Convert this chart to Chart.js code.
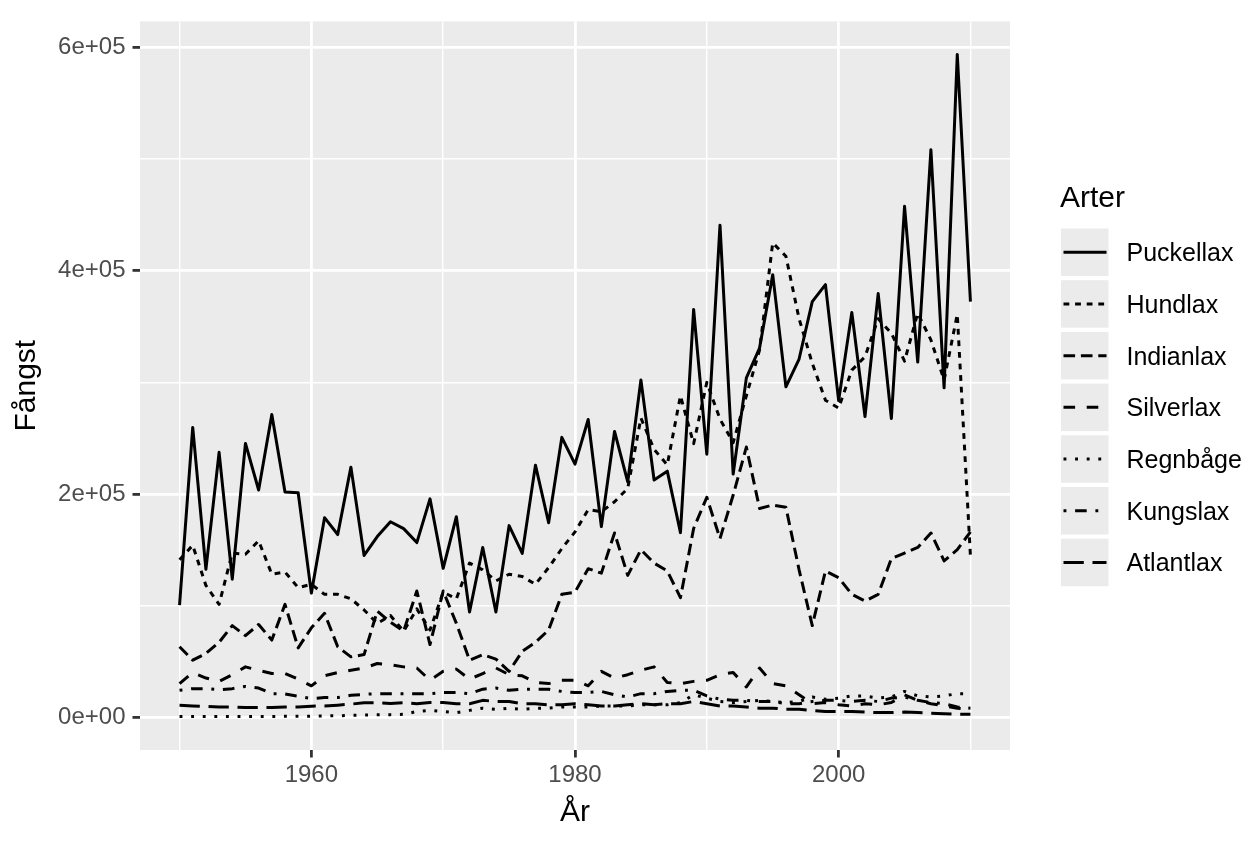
<!DOCTYPE html>
<html><head><meta charset="utf-8">
<script src="https://cdn.jsdelivr.net/npm/chart.js@4.4.0/dist/chart.umd.min.js"></script>
<style>html,body{margin:0;padding:0;background:#fff;}canvas{display:block}</style>
</head><body>
<canvas id="c" width="1248" height="848"></canvas>
<script>
const years = [1950,1951,1952,1953,1954,1955,1956,1957,1958,1959,
1960,1961,1962,1963,1964,1965,1966,1967,1968,1969,
1970,1971,1972,1973,1974,1975,1976,1977,1978,1979,
1980,1981,1982,1983,1984,1985,1986,1987,1988,1989,
1990,1991,1992,1993,1994,1995,1996,1997,1998,1999,
2000,2001,2002,2003,2004,2005,2006,2007,2008,2009,
2010];
const puckellax = [100400,259600,132400,237300,123600,245300,203500,271100,201800,201000,
111100,178700,163600,224000,144900,161800,175100,168900,156400,195600,
133300,179600,94200,152000,94200,171600,146700,225800,174200,250700,
226700,266700,170700,256000,210700,302200,212500,220400,165300,365400,
235600,440900,217800,304000,330700,396500,296000,320900,372400,387600,
283600,362700,269300,379600,267600,457800,318200,508500,295100,593800,
372400];
const hundlax = [141000,154000,118000,101000,147000,146000,158000,128000,130000,116000,
119000,110000,110000,106000,96000,84000,91000,77000,97000,78000,
112000,106000,138000,132000,122000,128000,126000,119000,134000,151000,
166000,186000,184000,193000,205000,268000,240000,226000,288000,245000,
300000,267000,246000,288000,329000,425000,413000,357000,317000,284000,
277000,311000,323000,357000,344000,319000,362000,338000,302000,361000,
144000];
const indianlax = [63000,51000,57000,67000,82000,73000,83000,69000,101000,62000,
80000,93000,63000,54000,56000,95000,85000,77000,113000,65000,
113000,84000,51000,56000,52000,41000,59000,67000,78000,110000,
112000,133000,129000,165000,127000,150000,138000,131000,107000,169000,
197000,160000,199000,242000,187000,190000,188000,132000,82000,131000,
125000,110000,104000,110000,142000,147000,152000,165000,140000,150000,
166000];
const silverlax = [30000,40000,35000,32000,38000,45000,42000,39000,39000,34000,
28000,37000,40000,42000,44000,48000,47000,45000,44000,33000,
41000,43000,34000,39000,44000,38000,37000,31000,30000,33000,
33000,28000,41000,35000,38000,42000,45000,31000,30000,32000,
33000,38000,40000,27000,44000,30000,28000,20000,12000,13000,
11000,10000,12000,11000,13000,20000,15000,12000,10000,8000,
7000];
const regnbage = [500,500,500,500,500,500,600,600,700,700,
800,1000,1200,1500,1800,2000,2200,2500,5000,6000,
5000,4000,6000,8000,7000,8000,7000,8000,8000,9000,
9000,9000,10000,10000,10000,11000,11000,11000,13000,20000,
17000,14000,13000,14000,15000,14000,13000,14000,18000,16000,
17000,19000,19000,17000,18000,23000,19000,18000,19000,21000,
21000];
const kungslax = [24000,25500,25500,24500,25500,27500,26000,21000,20700,18700,
16600,17500,17500,19500,20400,21000,21000,21000,21000,21000,
22000,22000,21000,25000,26000,24000,25000,25000,25000,23000,
22000,22000,23000,20000,18000,21000,21000,23000,24000,24000,
19000,16000,15000,15000,14000,14000,12000,12000,14000,15000,
15000,14000,15000,14000,17000,18000,15000,13000,12000,9000,
8000];
const atlantlax = [10700,10000,9500,9000,9000,8500,8500,8500,9000,9000,
9800,10000,10700,11600,12900,12900,12200,12900,12000,13000,
13000,12000,12000,15000,14000,14000,12000,12000,11000,11000,
12000,11000,10000,10000,11000,12000,11000,12000,12000,14000,
12000,10000,10000,9000,8000,8000,7000,7000,6000,5000,
5000,5000,4500,4000,4000,4500,4000,3500,3000,2500,
2500];

const seriesNames = ['Puckellax','Hundlax','Indianlax','Silverlax','Regnbåge','Kungslax','Atlantlax'];
const seriesValues = [puckellax,hundlax,indianlax,silverlax,regnbage,kungslax,atlantlax];
const xMajor = [1960,1980,2000];
const xMinor = [1950,1970,1990,2010];
const yMajor = [0,200000,400000,600000];
const yMajorLabels = ['0e+00','2e+05','4e+05','6e+05'];
const yMinor = [100000,300000,500000];
const xTitle = 'År', yTitle = 'Fångst', legendTitle = 'Arter';

const U = 2.9;
const dashes = [[],[2*U,2*U],[4*U,2*U],[4*U,4*U],[1*U,3*U],[1*U,3*U,4*U,3*U],[7*U,3*U]];
const FONT = '"Liberation Sans", Arial, Helvetica, sans-serif';

const datasets = seriesNames.map((n,i)=>({
  label:n,
  data: years.map((yr,j)=>({x:yr,y:seriesValues[i][j]})),
  borderColor:'#000000', backgroundColor:'#000000',
  borderWidth:3, borderDash:dashes[i], borderCapStyle:'butt', borderJoinStyle:'round',
  pointRadius:0, tension:0, fill:false, order: seriesNames.length - i
}));

const panelBg = {
  id:'panelBg',
  beforeDraw(chart){
    const {ctx, chartArea:a} = chart;
    ctx.save(); ctx.fillStyle='#EBEBEB';
    ctx.fillRect(a.left,a.top,a.right-a.left,a.bottom-a.top);
    ctx.restore();
  }
};
const ggLegend = {
  id:'ggLegend',
  afterDraw(chart){
    const ctx = chart.ctx;
    ctx.save();
    ctx.textAlign='left'; ctx.textBaseline='alphabetic';
    ctx.fillStyle='#000'; ctx.font='30px '+FONT;
    ctx.fillText(legendTitle, 1060, 207);
    seriesNames.forEach((n,i)=>{
      const top = 228.5 + i*51.7, h = 47.5, cy = top + h/2;
      ctx.fillStyle='#EBEBEB'; ctx.fillRect(1061, top, 47.5, h);
      ctx.strokeStyle='#000'; ctx.lineWidth=3; ctx.lineCap='butt';
      ctx.setLineDash(dashes[i]);
      ctx.beginPath(); ctx.moveTo(1063.5, cy); ctx.lineTo(1106.5, cy); ctx.stroke();
      ctx.setLineDash([]);
      ctx.fillStyle='#000'; ctx.font='25px '+FONT;
      ctx.fillText(n, 1126.5, cy + 9);
    });
    ctx.restore();
  }
};

new Chart(document.getElementById('c'), {
  type:'line',
  data:{datasets},
  plugins:[panelBg, ggLegend],
  options:{
    responsive:false, animation:false, devicePixelRatio:1,
    layout:{padding:{top:15,right:238,bottom:0,left:0}},
    plugins:{legend:{display:false}, tooltip:{enabled:false}},
    scales:{
      x:{
        type:'linear', min:1947, max:2013,
        afterBuildTicks(s){ s.ticks = xMinor.concat(xMajor).sort((a,b)=>a-b).map(v=>({value:v})); },
        afterFit(s){ s.height = 98; },
        border:{display:false},
        grid:{
          color:'#FFFFFF',
          lineWidth:c=> xMajor.includes(c.tick && c.tick.value) ? 2.8 : 1.4,
          tickColor:c=> xMajor.includes(c.tick && c.tick.value) ? '#333333' : 'rgba(0,0,0,0)',
          tickWidth:2.8, tickLength:7.5, drawTicks:true
        },
        ticks:{
          autoSkip:false, maxRotation:0, padding:3, color:'#4D4D4D',
          font:{family:FONT,size:24},
          callback:v=> xMajor.includes(v) ? String(v) : ''
        },
        title:{display:true, text:xTitle, color:'#000', font:{family:FONT,size:30}, padding:{top:0,bottom:17}}
      },
      y:{
        type:'linear', min:-29500, max:623500,
        afterBuildTicks(s){ s.ticks = yMajor.concat(yMinor).sort((a,b)=>a-b).map(v=>({value:v})); },
        afterFit(s){ s.width = 140; },
        border:{display:false},
        grid:{
          color:'#FFFFFF',
          lineWidth:c=> yMajor.includes(c.tick && c.tick.value) ? 2.8 : 1.4,
          tickColor:c=> yMajor.includes(c.tick && c.tick.value) ? '#333333' : 'rgba(0,0,0,0)',
          tickWidth:2.8, tickLength:7.5, drawTicks:true
        },
        ticks:{
          autoSkip:false, padding:7, color:'#4D4D4D',
          font:{family:FONT,size:24},
          callback:v=>{ const k = yMajor.indexOf(v); return k>=0 ? yMajorLabels[k] : ''; }
        },
        title:{display:true, text:yTitle, color:'#000', font:{family:FONT,size:30}, padding:{top:9,bottom:0}}
      }
    }
  }
});
</script>
</body></html>
